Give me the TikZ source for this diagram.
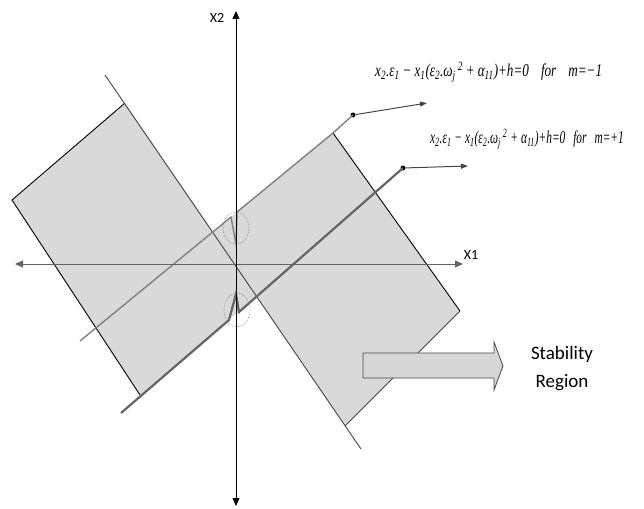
\documentclass[tikz,border=0pt]{standalone}
\usepackage{amsmath,amssymb}
\usepackage{fontspec}
\newfontfamily\labelfont{Carlito}
\newfontfamily\eqfont[FakeStretch=0.73]{Liberation Serif}
\newfontfamily\eqnarrow[FakeStretch=0.63]{Liberation Serif}
\usepackage{xcolor}
\usetikzlibrary{positioning, arrows.meta, calc, shapes.geometric}

\definecolor{regiongray}{RGB}{217,217,217}
\definecolor{arrowgray}{RGB}{214,214,214}
\definecolor{mgray}{RGB}{128,128,128}
\definecolor{pgray}{RGB}{100,100,100}
\definecolor{cgray}{RGB}{70,70,70}

\newcommand{\stabeq}[2]{%
  {\itshape x\textsubscript{2}.ε\textsubscript{1}\,−\,x\textsubscript{1}(ε\textsubscript{2}.ω\textsubscript{j}\textsuperscript{\,2}\,+\,α\textsubscript{11})+h=0\hspace{#2}for\hspace{#2}m=#1}}

\begin{document}
\begin{tikzpicture}[
  x=1pt, y=-1pt,
  every node/.style={inner sep=0pt},
  region/.style={fill=regiongray, draw=none},
  rim/.style={draw=black, line width=0.9pt},
  axisline/.style={line width=0.8pt,
    {Triangle[length=8pt,width=7pt]}-{Triangle[length=8pt,width=7pt]}},
  centre/.style={draw=cgray, line width=0.9pt},
  mminus/.style={draw=mgray, line width=1.4pt},
  mplus/.style={draw=pgray, line width=2.2pt},
  lead/.style={draw=cgray, line width=1pt, -{Triangle[length=7pt,width=5pt]}},
  tipdot/.style={circle, fill=black, minimum size=5pt},
  notch/.style={draw=gray, densely dotted, line width=0.6pt},
  eqn/.style={anchor=west, font=\fontsize{18}{20}\selectfont},
  axlabel/.style={font=\labelfont\fontsize{14}{16}\selectfont},
]

\useasboundingbox (0,0) rectangle (644,508);

% corners of the two regions
\coordinate (la) at (12,200);
\coordinate (lb) at (125,103);
\coordinate (lc) at (257,296);
\coordinate (ld) at (140,395);
\coordinate (ra) at (213,232);
\coordinate (rb) at (333,133);
\coordinate (rc) at (460,311);
\coordinate (rd) at (345,426);

\fill[region] (la) -- (lb) -- (lc) -- (ld) -- cycle;
\fill[region] (ra) -- (rb) -- (rc) -- (rd) -- cycle;

\draw[rim] (ld) -- (la) -- (lb);
\draw[rim] (rb) -- (rc);
\draw[centre] (rc) -- (rd);

% line through the origin
\coordinate (ctop) at (105,75);
\coordinate (cbot) at (361,449);
\draw[centre] (ctop) -- (cbot);

% end dots and leaders
\node[tipdot] (dotm) at (353,115) {};
\node[tipdot] (dotp) at (403,168) {};
\coordinate (endm) at (427,103);
\coordinate (endp) at (468,166);

% m = -1 and m = +1 lines with their notches
\draw[mminus] (80,341) -- (231,217) -- (236,244) -- (237,212) -- (rb) -- (dotm.center);
\draw[mplus] (121,413) -- (229,320) -- (236,294) -- (239,312) -- (dotp.center);

\draw[lead] (dotm) -- (endm);
\draw[lead] (dotp) -- (endp);

% axes
\coordinate (xw) at (15,264);
\coordinate (xe) at (463,264);
\coordinate (yn) at (236,11);
\coordinate (ys) at (236,506);
\draw[axisline, draw=pgray] (xw) -- (xe);
\draw[axisline] (ys) -- (yn);
\node[axlabel] (xone) at (471,255) {X1};
\node[axlabel] (xtwo) at (217,18) {X2};

% notch markers
\node[notch, ellipse, minimum width=26pt, minimum height=32pt] (upn) at (236,228) {};
\node[notch, ellipse, minimum width=26pt, minimum height=34pt] (lon) at (237,310) {};

% equations
\node[eqn] (eqm) at (375,72) {\eqfont\stabeq{−1}{12pt}};
\node[eqn] (eqp) at (430,139) {\eqnarrow\stabeq{+1}{8pt}};

% stability arrow
\draw[fill=arrowgray, draw=cgray, line width=0.8pt]
  (363,353) -- (494,353) -- (494,342) -- (503,366) -- (494,390) -- (494,378) -- (363,378) -- cycle;
\node[font=\labelfont\fontsize{19}{28}\selectfont, align=center] (stab) at (562,369)
  {Stability\\Region};

\end{tikzpicture}
\end{document}
